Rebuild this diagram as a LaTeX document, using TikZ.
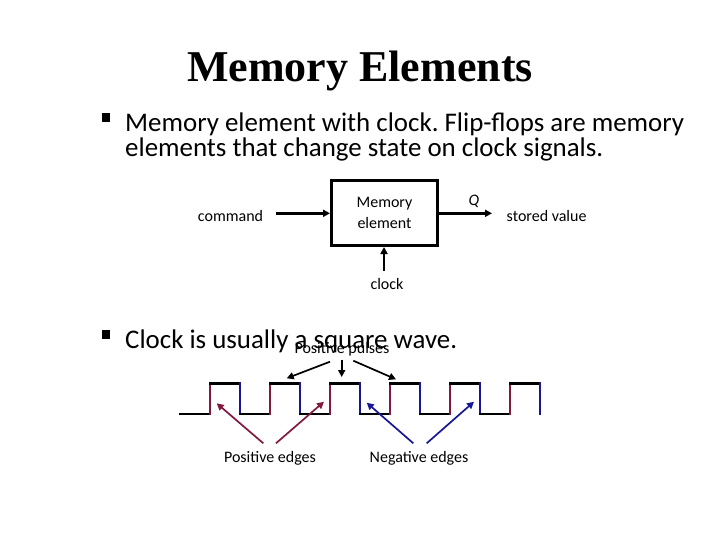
\documentclass[tikz,border=0pt]{standalone}
\usepackage{fontspec}
\setmainfont{Carlito}
\newfontfamily\titlefont{Liberation Serif}
\usetikzlibrary{arrows.meta}
\definecolor{posc}{RGB}{130,24,66}
\definecolor{negc}{RGB}{22,22,150}
\frenchspacing
\begin{document}
\begin{tikzpicture}[x=1pt,y=-1pt,
  big/.style={font=\fontsize{26.9}{25}\selectfont, inner sep=0pt, anchor=base west},
  small/.style={font=\fontsize{16}{21}\selectfont, inner sep=0pt, align=center},
  conn/.style={line width=2.6pt, -{Triangle[length=7pt,width=7pt]}},
  thin/.style={line width=1.7pt, -{Triangle[length=7pt,width=7pt]}},
  bul/.style={fill=black, minimum size=8.5pt, inner sep=0pt},
  hi/.style={line width=2.8pt, line cap=rect},
]
\useasboundingbox (0,0) rectangle (720,540);
% title
\node[inner sep=0pt, anchor=base, font=\titlefont\bfseries\fontsize{44}{48}\selectfont] (title) at (360,81.7) {Memory Elements};
% bullet 1
\node[bul] (b1) at (106,117.5) {};
\node[big] (t1a) at (125,131.5) {Memory element with clock. Flip-flops are memory};
\node[big] (t1b) at (125,156.5) {elements that change state on clock signals.};
% memory element diagram
\node[draw, line width=3pt, minimum width=106pt, minimum height=65pt, small] (mem) at (384.5,213) {Memory\\element};
\node[small, anchor=base] (cmd) at (230.5,222) {command};
\node[small, anchor=base west] (sv) at (506.5,222) {stored value};
\node[small, anchor=base] (clk) at (387,289) {clock};
\node[small, font=\fontsize{16}{18}\selectfont\itshape] (q) at (474,201) {Q};
\coordinate (cin) at (276,213.3);
\coordinate (cout) at (492,213.3);
\coordinate (cclk) at (384,271);
\draw[conn] (cin) -- (mem.west |- cin);
\draw[conn] (mem.east |- cout) -- (cout);
\draw[conn] (cclk) -- (mem.south -| cclk);
% bullet 2
\node[bul] (b2) at (106,334.5) {};
\node[big] (t2) at (125,348.3) {Clock is usually a square wave.};
\node[small, anchor=base] (pp) at (342,353.5) {Positive pulses};
% square wave
\foreach \r in {210,270,330,390,450,510}{
  \pgfmathsetmacro{\f}{\r+30}
  \draw[hi, black] (\r-30,414) -- (\r,414);
  \draw[hi, posc] (\r,414) -- (\r,383.5);
  \draw[hi, black] (\r,383.5) -- (\f,383.5);
  \draw[hi, negc] (\f,383.5) -- (\f,414);
}
\coordinate (p1) at (286.7,378.3);
\coordinate (p2) at (341.7,377);
\coordinate (p3) at (396,379.3);
\draw[thin] (330,361.7) -- (p1);
\draw[thin] (341.7,359.5) -- (p2);
\draw[thin] (353.3,360.7) -- (p3);
% edges labels
\node[small, anchor=base] (pe) at (270,462.5) {Positive edges};
\node[small, anchor=base] (ne) at (419,462.5) {Negative edges};
\coordinate (e1) at (216.7,403.3);
\coordinate (e2) at (324,401.7);
\coordinate (e3) at (366.7,402.7);
\coordinate (e4) at (474,401.7);
\draw[thin, posc] (263.3,443.3) -- (e1);
\draw[thin, posc] (276,443.3) -- (e2);
\draw[thin, negc] (413.3,443.3) -- (e3);
\draw[thin, negc] (426.7,443.3) -- (e4);
\end{tikzpicture}
\end{document}
